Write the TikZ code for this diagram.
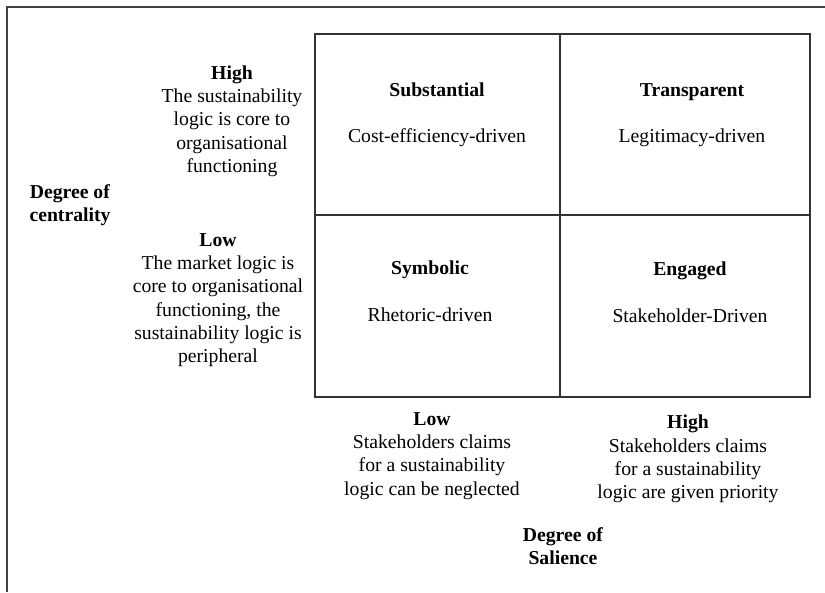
\documentclass[tikz,border=0pt]{standalone}
\usepackage{fontspec}
\setmainfont{Liberation Serif}
\begin{document}
\begin{tikzpicture}[x=1pt,y=-1pt,
  every node/.style={font=\fontsize{19.7}{23.3}\selectfont, inner sep=0pt, align=center, text=black},
  gridline/.style={draw=black!80, line width=1.7pt},
  frameline/.style={draw=black!75, line width=1.6pt},
  head/.style={font=\fontsize{19.7}{23.3}\selectfont\bfseries, anchor=base},
  sub/.style={anchor=base}]
\useasboundingbox (0,0) rectangle (825,592);
\fill[white] (0,0) rectangle (825,592);
% outer frame
\draw[frameline] (7,592) -- (7,7) -- (825,7);
% the 2x2 matrix
\coordinate (tl) at (315,34);
\coordinate (br) at (810,397);
\draw[gridline] (tl) rectangle (br);
\draw[gridline] (560,34) -- (560,397);
\draw[gridline] (315,215) -- (810,215);
% quadrant labels
\node[head] (q1h) at (437,96) {Substantial};
\node[sub]  (q1s) at (437,142) {Cost-efficiency-driven};
\node[head] (q2h) at (692,96) {Transparent};
\node[sub]  (q2s) at (692,142) {Legitimacy-driven};
\node[head] (q3h) at (430,274) {Symbolic};
\node[sub]  (q3s) at (430,321) {Rhetoric-driven};
\node[head] (q4h) at (690,275) {Engaged};
\node[sub]  (q4s) at (690,322) {Stakeholder-Driven};
% vertical axis
\node (yhigh) at (232,121) {\textbf{High}\\The sustainability\\logic is core to\\organisational\\functioning};
\node (ylow) at (218,300) {\textbf{Low}\\The market logic is\\core to organisational\\functioning, the\\sustainability logic is\\peripheral};
\node (ytitle) at (70,205) {\textbf{Degree of}\\\textbf{centrality}};
% horizontal axis
\node (xlow) at (432,456) {\textbf{Low}\\Stakeholders claims\\for a sustainability\\logic can be neglected};
\node (xhigh) at (688,459) {\textbf{High}\\Stakeholders claims\\for a sustainability\\logic are given priority};
\node (xtitle) at (563,546) {\textbf{Degree of}\\\textbf{Salience}};
\end{tikzpicture}
\end{document}
